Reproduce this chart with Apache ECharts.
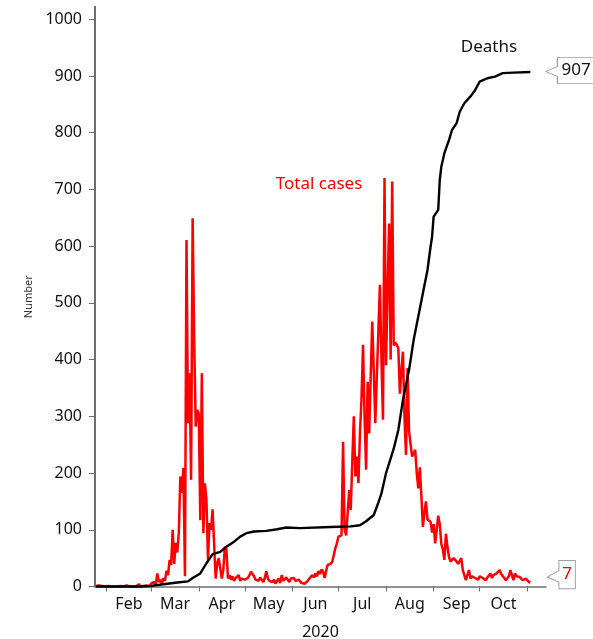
<!DOCTYPE html>
<html>
<head>
<meta charset="utf-8">
<script src="https://cdn.jsdelivr.net/npm/echarts@6/dist/echarts.min.js"></script>
<style>
html,body{margin:0;padding:0;background:#fff;}
#chart{width:593px;height:639px;}
</style>
</head>
<body>
<div id="chart"></div>
<script>
// ---- data (x = day of year 2020, Jan 1 = 0) ----
const monthTickDays = [31, 60, 91, 121, 152, 182, 213, 244, 274, 305];
const monthLabels = ['Feb', 'Mar', 'Apr', 'May', 'Jun', 'Jul', 'Aug', 'Sep', 'Oct'];
const yTicks = [0, 100, 200, 300, 400, 500, 600, 700, 800, 900, 1000];
const yearLabel = '2020';

const casesStartDay = 24; // Jan 25
const casesJan = [1, 0, 2, 0, 1, 0, 0];
const casesFeb = [0, 1, 0, 0, 2, 0, 1, 0, 0, 1, 0, 0, 1, 2, 0, 0, 1, 0, 0, 0, 1, 4, 0, 0, 1, 0, 2, 0, 1];
const casesMar = [5, 2, 8, 3, 23, 8, 12, 5, 15, 10, 28, 20, 47, 38, 100, 40, 77, 60, 95, 194, 165, 209, 18, 611, 288, 376, 188, 649, 440, 282, 311];
const casesApr = [305, 117, 376, 94, 182, 153, 47, 112, 100, 136, 138, 14, 40, 50, 48, 14, 30, 70, 66, 14, 20, 12, 18, 10, 15, 12, 20, 10, 14, 12];
const casesMay = [12, 10, 15, 20, 26, 24, 18, 12, 14, 10, 16, 12, 8, 15, 27, 14, 10, 12, 8, 12, 5, 10, 14, 6, 20, 10, 12, 16, 12, 8, 14];
const casesJun = [12, 15, 10, 8, 12, 10, 6, 8, 5, 3, 10, 14, 12, 20, 16, 23, 18, 27, 22, 30, 26, 15, 28, 38, 35, 40, 44, 45, 68, 76];
const casesJul = [88, 85, 90, 255, 100, 90, 130, 170, 135, 220, 300, 194, 229, 182, 270, 330, 426, 300, 206, 361, 270, 370, 467, 380, 288, 370, 450, 532, 400, 294, 720];
const casesAug = [390, 520, 640, 400, 714, 425, 430, 426, 420, 340, 380, 414, 300, 232, 385, 274, 250, 229, 235, 241, 200, 173, 210, 160, 105, 130, 150, 118, 120, 114, 95];
const casesSep = [110, 76, 100, 125, 110, 75, 65, 47, 93, 70, 52, 44, 45, 50, 47, 44, 40, 38, 50, 29, 30, 11, 20, 29, 14, 18, 20, 15, 17, 12];
const casesOct = [18, 20, 15, 14, 11, 16, 18, 23, 15, 20, 18, 23, 20, 29, 22, 20, 15, 11, 14, 18, 29, 20, 11, 23, 18, 20, 17, 14, 11, 13, 14];
const casesNov = [12, 8, 7];

const deathDays = [24, 40, 52, 60, 68, 77, 84, 87, 92, 96, 100, 105, 109, 114, 118, 122, 127, 135, 142, 148, 157, 177, 190, 196, 200, 205, 208, 210, 213, 218, 221, 224, 228, 231, 234, 237, 240, 242, 243, 244, 247, 248, 249, 251, 254, 256, 259, 261, 264, 268, 271, 274, 279, 284, 289, 296, 307];
const deathValues = [0, 0, 0, 1, 4, 7, 9, 15, 23, 41, 57, 61, 70, 79, 88, 94, 97, 98, 101, 104, 103, 105, 106, 108, 115, 126, 148, 164, 200, 243, 276, 329, 382, 435, 476, 517, 558, 599, 617, 652, 664, 717, 740, 764, 787, 805, 817, 837, 852, 864, 875, 890, 896, 899, 905, 906, 907];

const seriesNames = ['Total cases', 'Deaths'];

// ---- build ----
const cases = [].concat(casesJan, casesFeb, casesMar, casesApr, casesMay, casesJun, casesJul, casesAug, casesSep, casesOct, casesNov);
const casesData = cases.map((v, i) => [casesStartDay + i, v]);
const deathsData = deathDays.map((d, i) => [d, deathValues[i]]);
const labelDays = monthLabels.map((m, i) => (monthTickDays[i] + monthTickDays[i + 1]) / 2);

const FONT = 'Noto Sans';
const lastCase = casesData[casesData.length - 1];
const lastDeath = deathsData[deathsData.length - 1];

const chart = echarts.init(document.getElementById('chart'), null, {renderer: 'canvas'});
chart.setOption({
  animation: false,
  backgroundColor: '#fff',
  grid: {left: 95, right: 47, top: 6.8, bottom: 52.5, containLabel: false, outerBoundsMode: 'none'},
  xAxis: {
    type: 'value',
    min: 23.4,
    max: 317.2,
    name: yearLabel,
    nameLocation: 'middle',
    nameGap: 38,
    nameTextStyle: {fontFamily: FONT, fontSize: 16, color: '#111'},
    axisLine: {show: true, onZero: false, lineStyle: {color: '#6e6e6e', width: 1.5}},
    axisTick: {show: true, length: 5, customValues: monthTickDays, lineStyle: {color: '#6e6e6e', width: 1}},
    axisLabel: {
      customValues: labelDays,
      margin: 10,
      fontFamily: FONT, fontSize: 16, color: '#111',
      formatter: v => { const i = labelDays.indexOf(v); return i >= 0 ? monthLabels[i] : ''; }
    },
    splitLine: {show: false}
  },
  yAxis: {
    type: 'value',
    min: 0,
    max: 1022,
    name: 'Number',
    nameLocation: 'middle',
    nameGap: 60,
    nameTextStyle: {fontFamily: FONT, fontSize: 11, color: '#333'},
    axisLine: {show: true, lineStyle: {color: '#6e6e6e', width: 2}},
    axisTick: {show: true, length: 6, customValues: yTicks, lineStyle: {color: '#6e6e6e', width: 1}},
    axisLabel: {customValues: yTicks, margin: 13, fontFamily: FONT, fontSize: 16, color: '#111', formatter: v => String(v)},
    splitLine: {show: false}
  },
  series: [
    {
      name: seriesNames[0],
      type: 'line',
      data: casesData,
      showSymbol: false,
      symbol: 'none',
      lineStyle: {color: '#ff0000', width: 2.5},
      itemStyle: {color: '#ff0000'},
      clip: false,
      markPoint: {
        silent: true,
        symbol: 'path://M0 16.7 L11.6 10 L11.6 0 L28 0 L28 28.3 L11.6 28.3 L11.6 21.7 Z',
        symbolSize: [28, 28.3],
        symbolKeepAspect: false,
        symbolOffset: [31, -8],
        itemStyle: {color: '#fff', borderColor: '#a0a0a0', borderWidth: 1},
        label: {show: true, position: 'inside', offset: [5.8, 0], color: '#ff0000', fontFamily: FONT, fontSize: 17, formatter: p => p.value},
        data: [{coord: lastCase, value: lastCase[1]}]
      }
    },
    {
      name: seriesNames[1],
      type: 'line',
      data: deathsData,
      showSymbol: false,
      symbol: 'none',
      lineStyle: {color: '#000', width: 2.4},
      itemStyle: {color: '#000'},
      clip: false,
      markPoint: {
        silent: true,
        symbol: 'path://M0 14 L11.6 9 L11.6 0 L49 0 L49 26 L11.6 26 L11.6 19 Z',
        symbolSize: [49, 26],
        symbolKeepAspect: false,
        symbolOffset: [40, -1.5],
        itemStyle: {color: '#fff', borderColor: '#a0a0a0', borderWidth: 1},
        label: {show: true, position: 'inside', offset: [5.8, 0], color: '#111', fontFamily: FONT, fontSize: 17, formatter: p => p.value},
        data: [{coord: lastDeath, value: lastDeath[1]}]
      }
    }
  ],
  graphic: [
    {type: 'text', x: 489, y: 47, style: {text: seriesNames[1], fill: '#111', font: '17px "Noto Sans"', align: 'center', verticalAlign: 'middle'}},
    {type: 'text', x: 319, y: 184, style: {text: seriesNames[0], fill: '#ff0000', font: '17px "Noto Sans"', align: 'center', verticalAlign: 'middle'}}
  ]
});
</script>
</body>
</html>
